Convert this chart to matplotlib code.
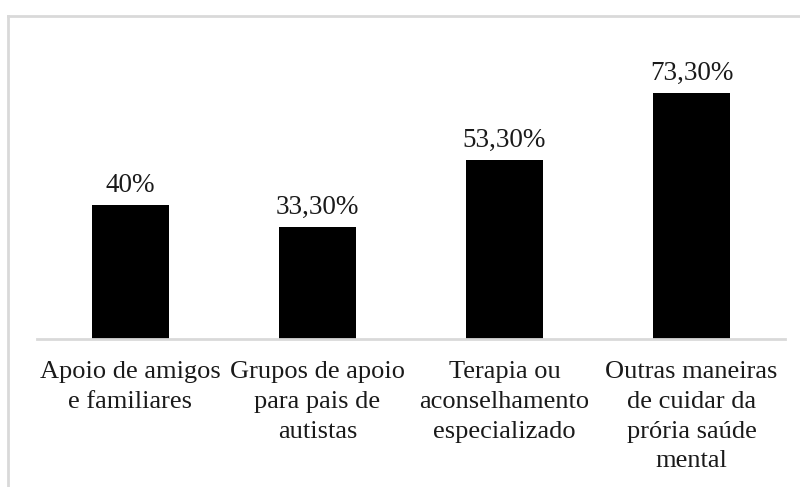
import matplotlib
matplotlib.use("Agg")
import matplotlib.pyplot as plt
from matplotlib.lines import Line2D

# Dados do gráfico
categorias = [
    "Apoio de amigos\ne familiares",
    "Grupos de apoio\npara pais de\nautistas",
    "Terapia ou\naconselhamento\nespecializado",
    "Outras maneiras\nde cuidar da\nprória saúde\nmental",
]
valores = [40.0, 33.3, 53.3, 73.3]
rotulos = ["40%", "33,30%", "53,30%", "73,30%"]

plt.rcParams["font.family"] = ["Liberation Serif", "DejaVu Serif"]

fig = plt.figure(figsize=(8, 4.87), dpi=100)
fig.patch.set_facecolor("white")

# Moldura cinza clara (somente topo e esquerda visíveis)
borda = "#d9d9d9"
fig.add_artist(Line2D([8 / 800, 1.0], [1 - 16 / 487, 1 - 16 / 487],
                      transform=fig.transFigure, color=borda, linewidth=2))
fig.add_artist(Line2D([8 / 800, 8 / 800], [0.0, 1 - 16 / 487],
                      transform=fig.transFigure, color=borda, linewidth=2))

ax = fig.add_axes([37 / 800, 1 - 339 / 487, 748 / 800, 0.552])
x = range(len(valores))
barras = ax.bar(x, valores, width=0.41, color="black")

for b, txt in zip(barras, rotulos):
    ax.annotate(txt, (b.get_x() + b.get_width() / 2, b.get_height()),
                xytext=(0, 5), textcoords="offset points",
                ha="center", va="bottom", fontsize=19.5, color="#1a1a1a")

ax.set_xlim(-0.5, 3.5)
ax.set_ylim(0, 80)
ax.set_xticks(list(x))
ax.set_xticklabels(categorias, fontsize=19, color="#1a1a1a", linespacing=1.45)
ax.tick_params(axis="x", length=0, pad=16)
ax.set_yticks([])
for lado in ["top", "right", "left"]:
    ax.spines[lado].set_visible(False)
ax.spines["bottom"].set_color(borda)
ax.spines["bottom"].set_linewidth(2)

fig.savefig("out.png", dpi=100, facecolor="white")
